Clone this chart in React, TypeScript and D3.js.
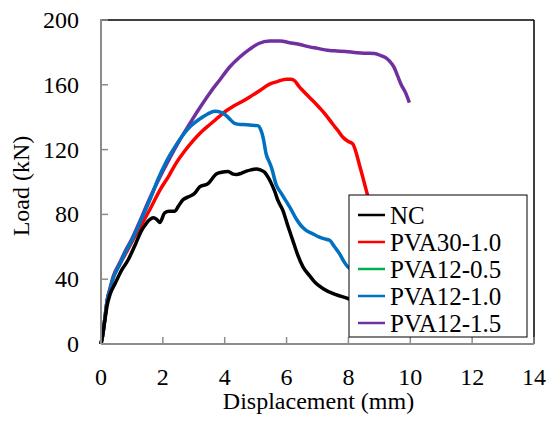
import React, { useEffect, useRef } from "react";
import * as d3 from "d3";

const xTicks = [0, 2, 4, 6, 8, 10, 12, 14];
const yTicks = [0, 40, 80, 120, 160, 200];

const ncX = [0,0.05,0.12,0.2,0.3,0.45,0.65,0.88,1.1,1.31,1.45,1.53,1.69,1.8,1.9,2.06,2.2,2.39,2.5,2.65,2.85,3.03,3.19,3.46,3.73,3.9,4.11,4.25,4.38,4.55,4.7,4.85,5.02,5.15,5.29,5.4,5.51,5.62,5.72,5.88,6.04,6.2,6.36,6.53,6.75,6.96,7.2,7.49,7.75,7.98,8.1];
const ncY = [0,5,14,24,31,37,45,52,61,70,74,76,78,77,75,81,82,82,85,89,91,93,97,99,105,106,106.5,105,104.6,105.5,106.7,107.5,108,107.5,106,103,99,94,88.6,82.5,73,64,55,47.6,42,37.3,34,31.2,29.5,28.1,27.5];

const pva30X = [0,0.05,0.12,0.2,0.3,0.4,0.6,0.83,1.0,1.26,1.58,1.9,2.2,2.44,2.7,2.98,3.25,3.52,3.8,4.05,4.3,4.59,4.81,5.1,5.45,5.7,5.99,6.15,6.26,6.4,6.53,6.75,6.96,7.15,7.33,7.49,7.65,7.82,8.0,8.14,8.25,8.35,8.45,8.52,8.62,8.7];
const pva30Y = [0,5,15,27,34,41,49,57,63,72,83,94.8,104,112,119,125.5,131,135.5,140,144,147,150,152.5,156,160.4,162,163.5,163.5,162.5,159,156.3,152,148,144,139.9,135.8,132,127.6,125,123.5,118,111,104,98.9,91.7,85];

const pva12_05X: number[] = [];
const pva12_05Y: number[] = [];

const pva12_10X = [0,0.05,0.12,0.2,0.3,0.4,0.6,0.83,1.0,1.26,1.58,1.85,2.12,2.4,2.65,2.9,3.19,3.45,3.68,3.89,4.05,4.16,4.32,4.5,4.7,4.9,5.07,5.17,5.24,5.34,5.45,5.51,5.67,5.83,5.99,6.15,6.31,6.47,6.63,6.85,7.06,7.2,7.39,7.55,7.71,7.85,7.98,8.1];
const pva12_10Y = [0,5,15,27,34,41,49,58,64,75,89,102,113,122,129,134.5,138.9,142,143.6,143,141,138.9,136.2,135.5,135.4,135,134.8,132,127.6,117.3,112,109,98,93,88,83,77.3,73,70.2,68,66,65,64,60,55.8,51,47.6,46];

const pva12_15X = [0,0.05,0.12,0.2,0.3,0.4,0.6,0.83,1.0,1.26,1.53,1.85,2.2,2.55,2.9,3.2,3.52,3.84,4.16,4.48,4.81,5.1,5.45,5.8,6.1,6.4,6.74,7.0,7.33,7.55,7.9,8.19,8.5,8.84,9.05,9.27,9.4,9.48,9.6,9.7,9.85,9.97];
const pva12_15Y = [0,5,15,27,35,42,50,59,65,76,88,101,114,126,137,146,155,163,171,177,182,185.5,187,187,186,185,183.4,182.5,181.3,181,180.5,180,179.5,179.3,178,175.8,173,170.6,165,160.4,155,149];

const seriesNames = ["NC", "PVA30-1.0", "PVA12-0.5", "PVA12-1.0", "PVA12-1.5"];
const seriesColors = ["#000000", "#FF0000", "#00B050", "#0070C0", "#7030A0"];
const seriesXs = [ncX, pva30X, pva12_05X, pva12_10X, pva12_15X];
const seriesYs = [ncY, pva30Y, pva12_05Y, pva12_10Y, pva12_15Y];

const FONT = '"Liberation Serif", "Times New Roman", serif';

export default function App() {
  const ref = useRef<SVGSVGElement | null>(null);

  useEffect(() => {
    const svg = d3.select(ref.current);
    svg.selectAll("*").remove();
    const left = 101, right = 534, top = 20, bottom = 344;
    const x = d3.scaleLinear().domain([0, 14]).range([left, right]);
    const y = d3.scaleLinear().domain([0, 200]).range([bottom, top]);
    const line = d3.line<[number, number]>().x(d => x(d[0])).y(d => y(d[1])).curve(d3.curveMonotoneX);
    const axisColor = "#8c8c8c";

    svg.append("rect").attr("width", 550).attr("height", 421).attr("fill", "#fff");
    svg.append("line").attr("x1", left).attr("x2", right).attr("y1", top).attr("y2", top).attr("stroke", "#000").attr("stroke-width", 1.5);
    svg.append("line").attr("x1", right).attr("x2", right).attr("y1", top).attr("y2", bottom).attr("stroke", "#000").attr("stroke-width", 1.5);

    xTicks.forEach(t => {
      svg.append("line").attr("x1", x(t)).attr("x2", x(t)).attr("y1", bottom).attr("y2", bottom - 7).attr("stroke", axisColor).attr("stroke-width", 1.5);
      svg.append("text").attr("x", x(t)).attr("y", 385).attr("text-anchor", "middle")
        .style("font-family", FONT).style("font-size", "24px").attr("fill", "#000").text(String(t));
    });
    yTicks.forEach(t => {
      svg.append("line").attr("x1", left).attr("x2", left + 7).attr("y1", y(t)).attr("y2", y(t)).attr("stroke", axisColor).attr("stroke-width", 1.5);
      svg.append("text").attr("x", 79).attr("y", y(t) + 8).attr("text-anchor", "end")
        .style("font-family", FONT).style("font-size", "24px").attr("fill", "#000").text(String(t));
    });

    [4, 1, 3, 0, 2].forEach(i => {
      const pts = seriesXs[i].map((v, k) => [v, seriesYs[i][k]] as [number, number]);
      if (pts.length === 0) return;
      svg.append("path").attr("d", line(pts) || "").attr("fill", "none").attr("stroke", seriesColors[i])
        .attr("stroke-width", 3.5).attr("stroke-linejoin", "round");
    });

    svg.append("line").attr("x1", left).attr("x2", left).attr("y1", top - 1).attr("y2", bottom).attr("stroke", axisColor).attr("stroke-width", 2);
    svg.append("line").attr("x1", left).attr("x2", right).attr("y1", bottom).attr("y2", bottom).attr("stroke", axisColor).attr("stroke-width", 2);

    svg.append("text").attr("x", (left + right) / 2 + 1).attr("y", 409).attr("text-anchor", "middle")
      .style("font-family", FONT).style("font-size", "24px").attr("fill", "#000").text("Displacement (mm)");
    svg.append("text").attr("transform", `translate(29, ${(top + bottom) / 2 + 4}) rotate(-90)`).attr("text-anchor", "middle")
      .style("font-family", FONT).style("font-size", "24px").attr("fill", "#000").text("Load (kN)");

    svg.append("rect").attr("x", 349).attr("y", 195).attr("width", 178).attr("height", 142)
      .attr("fill", "#fff").attr("stroke", "#000").attr("stroke-width", 1);
    seriesNames.forEach((n, i) => {
      const cy = 215 + i * 27;
      svg.append("line").attr("x1", 358).attr("x2", 385).attr("y1", cy).attr("y2", cy).attr("stroke", seriesColors[i]).attr("stroke-width", 2.5);
      svg.append("text").attr("x", 390).attr("y", cy + 8.5)
        .style("font-family", FONT).style("font-size", "25px").attr("fill", "#000").text(n);
    });
  }, []);

  return <svg ref={ref} width={550} height={421} style={{ position: "absolute", left: 0, top: 0 }} />;
}
